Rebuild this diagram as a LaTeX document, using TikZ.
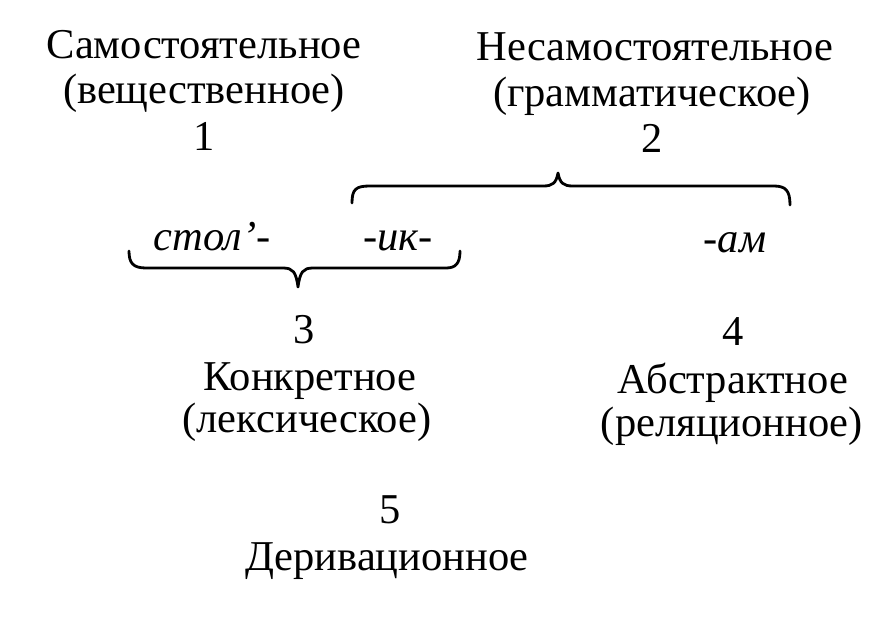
\documentclass[tikz,border=0pt]{standalone}
\usepackage{fontspec}
\setmainfont{Liberation Serif}
\tikzset{
  lbl/.style={inner sep=0pt, anchor=base, font=\fontsize{42.5}{50}\selectfont},
  ilbl/.style={lbl, font=\fontsize{42.5}{50}\selectfont\itshape},
  brace/.style={line width=2.8pt, line cap=round, line join=round}
}
\begin{document}
\begin{tikzpicture}[x=1pt,y=-1pt]
\useasboundingbox[fill=white] (0,0) rectangle (892,622);
% top labels
\node[lbl] (s1) at (204,58) {Самостоятельное};
\node[lbl] (s2) at (204,103) {(вещественное)};
\node[lbl] (n1) at (204,150) {1};
\node[lbl] (h1) at (655,60) {Несамостоятельное};
\node[lbl] (h2) at (652,106) {(грамматическое)};
\node[lbl] (n2) at (652,152) {2};
% morphemes
\node[ilbl] (m1) at (212,250) {стол’-};
\node[ilbl] (m2) at (398,250) {-ик-};
\node[ilbl] (m3) at (735,252) {-ам};
% lower labels
\node[lbl] (n3) at (304,343) {3};
\node[lbl] (k1) at (310,390) {Конкретное};
\node[lbl] (k2) at (307,432) {(лексическое)};
\node[lbl] (n4) at (733,345) {4};
\node[lbl] (a1) at (733,393) {Абстрактное};
\node[lbl] (a2) at (732,436) {(реляционное)};
\node[lbl] (n5) at (390,523) {5};
\node[lbl] (d1) at (387,570) {Деривационное};
% upper brace
\coordinate (ub1) at (352,203);
\coordinate (ubt) at (558,173);
\coordinate (ub2) at (790,205);
\draw[brace] (ub1) .. controls (352,189) and (356,186) .. (370,186) -- (543,186)
  .. controls (553,186) and (556,183) .. (ubt)
  .. controls (560,183) and (563,186) .. (573,186) -- (774,186)
  .. controls (786,186) and (790,191) .. (ub2);
% lower brace
\coordinate (lb1) at (129,251);
\coordinate (lbt) at (298,287);
\coordinate (lb2) at (460,251);
\draw[brace] (lb1) .. controls (129,263) and (133,268) .. (146,268) -- (283,268)
  .. controls (293,268) and (296,272) .. (lbt)
  .. controls (300,272) and (303,268) .. (313,268) -- (446,268)
  .. controls (456,268) and (460,263) .. (lb2);
\end{tikzpicture}
\end{document}
